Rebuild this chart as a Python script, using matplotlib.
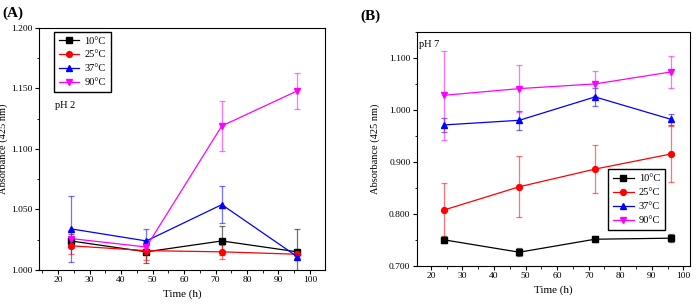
import matplotlib
matplotlib.use("Agg")
import matplotlib.pyplot as plt
from matplotlib.ticker import MultipleLocator, FormatStrFormatter

plt.rcParams['font.family'] = ['Liberation Serif', 'DejaVu Serif']

time_h = [24, 48, 72, 96]
labels = ["10°C", "25°C", "37°C", "90°C"]

# Panel A (pH 2)
a_10 = [1.024, 1.015, 1.024, 1.015]
a_10_err = [0.006, 0.009, 0.012, 0.019]
a_25 = [1.020, 1.016, 1.015, 1.013]
a_25_err = [0.007, 0.008, 0.006, 0.003]
a_37 = [1.034, 1.024, 1.054, 1.011]
a_37_err = [0.027, 0.010, 0.015, 0.002]
a_90 = [1.026, 1.019, 1.119, 1.148]
a_90_err = [0.007, 0.005, 0.021, 0.015]

# Panel B (pH 7)
b_10 = [0.750, 0.726, 0.751, 0.753]
b_10_err = [0.007, 0.008, 0.006, 0.008]
b_25 = [0.807, 0.852, 0.886, 0.915]
b_25_err = [0.053, 0.059, 0.046, 0.054]
b_37 = [0.971, 0.980, 1.025, 0.982]
b_37_err = [0.013, 0.018, 0.018, 0.011]
b_90 = [1.028, 1.041, 1.050, 1.073]
b_90_err = [0.085, 0.045, 0.024, 0.031]

colors = ["black", "red", "blue", "magenta"]
markers = ["s", "o", "^", "v"]

fig = plt.figure(figsize=(7, 3.08), dpi=100)
axA = fig.add_axes([0.0557, 0.1234, 0.4086, 0.786])
axB = fig.add_axes([0.5953, 0.1373, 0.3904, 0.7588])

def draw(ax, series, errs):
    for y, e, c, m, lab in zip(series, errs, colors, markers, labels):
        ax.errorbar(time_h, y, yerr=e, fmt='none', ecolor=c, alpha=0.55,
                    elinewidth=0.9, capsize=2.5, capthick=0.9, zorder=2)
        ax.plot(time_h, y, color=c, marker=m, markersize=4.2, lw=0.9,
                label=lab, zorder=3)
    ax.xaxis.set_major_locator(MultipleLocator(10))
    ax.xaxis.set_minor_locator(MultipleLocator(5))
    ax.tick_params(axis='both', which='major', direction='out', length=3,
                   labelsize=6.8, width=0.8, top=False, right=False, pad=1.5)
    ax.tick_params(axis='both', which='minor', direction='out', length=1.8,
                   width=0.6, top=False, right=False)
    ax.yaxis.set_major_formatter(FormatStrFormatter('%.3f'))
    ax.set_xlabel("Time (h)", fontsize=8, labelpad=4)
    ax.set_ylabel("Absorbance (425 nm)", fontsize=7.5)
    for s in ax.spines.values():
        s.set_linewidth(0.8)

leg_kw = dict(fontsize=7.5, frameon=True, fancybox=False, edgecolor='black',
              handlelength=2.0, handletextpad=0.5, borderpad=0.45,
              labelspacing=0.45, borderaxespad=0.0, framealpha=1.0)

draw(axA, [a_10, a_25, a_37, a_90], [a_10_err, a_25_err, a_37_err, a_90_err])
axA.set_xlim(13.9, 104.8)
axA.set_ylim(1.0, 1.2)
axA.yaxis.set_major_locator(MultipleLocator(0.05))
axA.yaxis.set_minor_locator(MultipleLocator(0.025))
axA.yaxis.set_label_coords(-0.108, 0.5)
axA.legend(loc='upper left', bbox_to_anchor=(0.052, 0.985), **leg_kw)
axA.text(0.055, 0.67, "pH 2", transform=axA.transAxes, fontsize=7.5)

draw(axB, [b_10, b_25, b_37, b_90], [b_10_err, b_25_err, b_37_err, b_90_err])
axB.set_xlim(15.5, 102.1)
axB.set_ylim(0.7, 1.15)
axB.yaxis.set_major_locator(MultipleLocator(0.1))
axB.yaxis.set_minor_locator(MultipleLocator(0.05))
axB.yaxis.set_label_coords(-0.135, 0.5)
axB.legend(loc='lower right', bbox_to_anchor=(0.908, 0.153), **leg_kw)
axB.text(0.01, 0.935, "pH 7", transform=axB.transAxes, fontsize=7.5)

fig.text(0.004, 0.945, "(A)", fontsize=11, fontweight='bold')
fig.text(0.515, 0.935, "(B)", fontsize=11, fontweight='bold')

fig.savefig("out.png", dpi=100)
